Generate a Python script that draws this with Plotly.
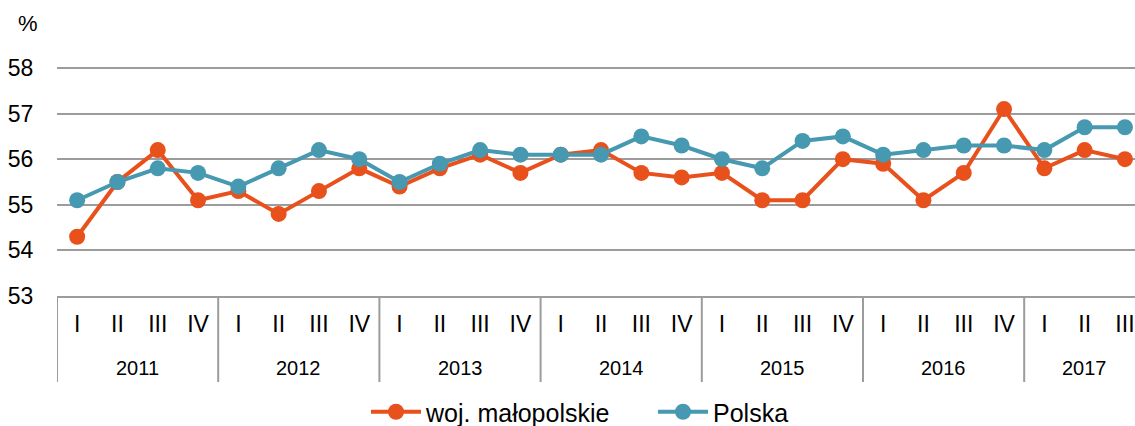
import plotly.graph_objects as go

years = ["2011", "2012", "2013", "2014", "2015", "2016", "2017"]
quarters_per_year = [4, 4, 4, 4, 4, 4, 3]
quarter_names = ["I", "II", "III", "IV"]

malopolskie = [54.3, 55.5, 56.2, 55.1,
               55.3, 54.8, 55.3, 55.8,
               55.4, 55.8, 56.1, 55.7,
               56.1, 56.2, 55.7, 55.6,
               55.7, 55.1, 55.1, 56.0,
               55.9, 55.1, 55.7, 57.1,
               55.8, 56.2, 56.0]
polska = [55.1, 55.5, 55.8, 55.7,
          55.4, 55.8, 56.2, 56.0,
          55.5, 55.9, 56.2, 56.1,
          56.1, 56.1, 56.5, 56.3,
          56.0, 55.8, 56.4, 56.5,
          56.1, 56.2, 56.3, 56.3,
          56.2, 56.7, 56.7]
y_ticks = [53, 54, 55, 56, 57, 58]

# build category labels
q_labels = []
year_centers = []
year_bounds = [-0.5]
idx = 0
for y, n in zip(years, quarters_per_year):
    q_labels += quarter_names[:n]
    year_centers.append(idx + (n - 1) / 2)
    idx += n
    year_bounds.append(idx - 0.5)
xs = list(range(len(q_labels)))

FONT = "Liberation Sans, Arial, sans-serif"
ORANGE = "#E8501C"
BLUE = "#4699B0"
GRID = "#9C9C9C"

W, H = 1135, 426
ML, MR, MT, MB = 57, 0, 20, 130
plot_w = W - ML - MR
plot_h = H - MT - MB
px_per_unit = 45.6
px_per_cat = 40.3

fig = go.Figure()
fig.add_trace(go.Scatter(x=xs, y=malopolskie, mode="lines+markers", name="woj. małopolskie",
                         line=dict(color=ORANGE, width=4),
                         marker=dict(color=ORANGE, size=16), cliponaxis=False))
fig.add_trace(go.Scatter(x=xs, y=polska, mode="lines+markers", name="Polska",
                         line=dict(color=BLUE, width=4),
                         marker=dict(color=BLUE, size=16), cliponaxis=False))

fig.update_layout(
    width=W, height=H,
    margin=dict(l=ML, r=MR, t=MT, b=MB, autoexpand=False),
    paper_bgcolor="white", plot_bgcolor="white",
    font=dict(family=FONT, size=22, color="#000000"),
    showlegend=True,
    legend=dict(orientation="h", xref="container", x=366 / W, xanchor="left",
                yref="container", y=(H - 412) / H, yanchor="middle",
                font=dict(size=25), bgcolor="rgba(0,0,0,0)", itemwidth=50,
                entrywidth=222, entrywidthmode="pixels", tracegroupgap=0),
    xaxis=dict(range=[-0.5, -0.5 + plot_w / px_per_cat], tickmode="array", tickvals=xs, ticktext=q_labels,
               showgrid=False, zeroline=False, showline=True, linecolor=GRID, linewidth=2,
               ticks="outside", ticklen=6, tickcolor="rgba(0,0,0,0)",
               tickfont=dict(size=23), automargin=False),
    yaxis=dict(range=[53, 53 + plot_h / px_per_unit], tickmode="array", tickvals=y_ticks,
               showgrid=True, gridcolor=GRID, gridwidth=2, zeroline=False, showline=False,
               ticks="outside", ticklen=18, tickcolor="rgba(0,0,0,0)",
               tickfont=dict(size=23), automargin=False),
)

# year dividers
for b in year_bounds:
    fig.add_shape(type="line", xref="x", yref="paper", x0=b, x1=b, y0=0, y1=-(382 - 296) / plot_h,
                  line=dict(color=GRID, width=2))

# year labels
for yv, c in zip(years, year_centers):
    fig.add_annotation(x=c, y=-(368 - 296) / plot_h, xref="x", yref="paper", text=yv,
                       showarrow=False, font=dict(size=20), xanchor="center", yanchor="middle")

# unit label
fig.add_annotation(x=(28 - ML) / plot_w, y=1 + (MT - 23) / plot_h, xref="paper", yref="paper",
                   text="%", showarrow=False, xanchor="center", yanchor="middle", font=dict(size=22))

fig.write_html("out.html", config={"displayModeBar": False},
               post_script="document.body.style.margin='0';document.body.style.overflow='hidden';")
